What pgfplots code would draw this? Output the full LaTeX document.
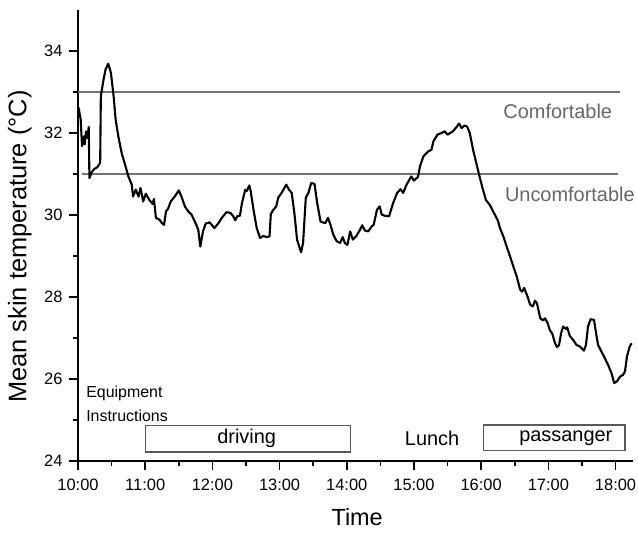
\documentclass[border=0pt]{standalone}
\usepackage{fontspec}
\setmainfont{Liberation Sans}
\usepackage{pgfplots}
\pgfplotsset{compat=1.18}
\begin{document}
\begin{tikzpicture}
\begin{axis}[
  width=555bp, height=451bp, scale only axis,
  xmin=10, xmax=18.26, ymin=24, ymax=35,
  axis lines=left, axis line style={-, line width=1.5bp},
  tick align=outside,
  major tick length=9bp, minor tick length=5bp,
  every tick/.style={line width=1.5bp, black},
  xtick={10,11,12,13,14,15,16,17,18},
  xticklabels={10:00,11:00,12:00,13:00,14:00,15:00,16:00,17:00,18:00},
  ytick={24,26,28,30,32,34},
  minor x tick num=1, minor y tick num=1,
  /pgf/number format/assume math mode=true,
  ticklabel style={font=\fontsize{16.5}{19}\selectfont},
  xticklabel style={yshift=-6bp},
  yticklabel style={xshift=-3bp},
  xlabel={Time}, ylabel={Mean skin temperature (°C)},
  xlabel style={font=\fontsize{23.5}{27}\selectfont, inner sep=0pt, at={(axis description cs:0.503,-0.105)}, anchor=north},
  ylabel style={font=\fontsize{25.5}{29}\selectfont, inner sep=0pt, at={(axis description cs:-0.083,0.4756)}, anchor=south},
  clip=false,
]
\addplot[black!55, line width=1.6bp] coordinates {(10,33) (18.07,33)};
\addplot[black!55, line width=1.6bp] coordinates {(10.06,31) (18.03,31)};
\addplot[black!65, line width=1.3bp] coordinates {(11,24.22) (14.06,24.22) (14.06,24.86) (11,24.86) (11,24.22)};
\addplot[black!65, line width=1.3bp] coordinates {(16.03,24.25) (18.14,24.25) (18.14,24.88) (16.03,24.88) (16.03,24.25)};
\addplot[black, line width=2.1bp, line join=round] coordinates {
(10.00,32.57) (10.01,32.61) (10.04,32.33) (10.06,31.68) (10.09,31.92) (10.10,31.72) (10.12,32.04) (10.14,31.88) (10.16,32.15) (10.17,30.90) (10.20,31.03) (10.24,31.12) (10.29,31.17) (10.33,31.27) (10.34,32.90) (10.38,33.30) (10.41,33.55) (10.45,33.69) (10.49,33.47) (10.53,32.90) (10.56,32.33) (10.60,31.92) (10.65,31.51) (10.70,31.23) (10.75,30.94) (10.80,30.74) (10.82,30.45) (10.86,30.62) (10.90,30.45) (10.93,30.66) (10.97,30.33) (11.01,30.52) (11.06,30.37) (11.11,30.27) (11.13,30.39) (11.16,29.93) (11.21,29.89) (11.25,29.80) (11.28,29.76) (11.31,30.09) (11.34,30.15) (11.38,30.33) (11.44,30.45) (11.50,30.60) (11.54,30.45) (11.59,30.21) (11.64,30.09) (11.69,30.01) (11.75,29.80) (11.79,29.64) (11.82,29.23) (11.86,29.60) (11.90,29.79) (11.96,29.82) (12.03,29.68) (12.09,29.80) (12.14,29.93) (12.21,30.07) (12.27,30.05) (12.31,29.97) (12.34,29.87) (12.37,29.97) (12.41,29.98) (12.44,30.29) (12.49,30.62) (12.51,30.58) (12.55,30.72) (12.57,30.58) (12.62,30.05) (12.66,29.68) (12.71,29.44) (12.76,29.49) (12.81,29.46) (12.85,29.48) (12.87,30.03) (12.91,30.13) (12.95,30.21) (12.98,30.42) (13.03,30.54) (13.10,30.74) (13.14,30.62) (13.18,30.54) (13.22,30.05) (13.26,29.40) (13.32,29.09) (13.35,29.32) (13.39,30.42) (13.43,30.54) (13.47,30.78) (13.52,30.76) (13.56,30.29) (13.61,29.84) (13.68,29.80) (13.72,29.93) (13.75,29.80) (13.80,29.52) (13.85,29.36) (13.90,29.32) (13.94,29.46) (13.97,29.32) (14.01,29.27) (14.05,29.60) (14.09,29.40) (14.14,29.48) (14.19,29.62) (14.23,29.75) (14.27,29.62) (14.32,29.60) (14.37,29.72) (14.40,29.76) (14.45,30.13) (14.49,30.21) (14.52,30.01) (14.57,29.98) (14.63,29.97) (14.69,30.29) (14.75,30.54) (14.80,30.63) (14.84,30.54) (14.89,30.74) (14.96,30.94) (15.00,30.84) (15.06,30.93) (15.09,31.19) (15.14,31.43) (15.21,31.55) (15.26,31.59) (15.29,31.80) (15.35,31.96) (15.41,32.00) (15.46,32.04) (15.50,31.96) (15.54,32.00) (15.58,32.04) (15.64,32.16) (15.67,32.23) (15.71,32.12) (15.75,32.18) (15.79,32.16) (15.83,32.00) (15.88,31.59) (15.93,31.25) (15.97,30.98) (16.02,30.66) (16.07,30.37) (16.13,30.24) (16.19,30.05) (16.25,29.86) (16.28,29.68) (16.33,29.48) (16.38,29.23) (16.43,28.99) (16.48,28.74) (16.53,28.50) (16.58,28.18) (16.61,28.13) (16.64,28.22) (16.69,28.01) (16.73,27.81) (16.77,27.77) (16.80,27.91) (16.83,27.85) (16.88,27.48) (16.92,27.43) (16.95,27.48) (16.99,27.36) (17.02,27.20) (17.06,27.10) (17.10,26.87) (17.13,26.78) (17.16,26.83) (17.19,27.12) (17.22,27.28) (17.26,27.22) (17.28,27.26) (17.32,27.05) (17.37,26.95) (17.42,26.83) (17.47,26.79) (17.53,26.69) (17.56,26.83) (17.59,27.28) (17.63,27.46) (17.68,27.44) (17.71,27.12) (17.74,26.83) (17.79,26.67) (17.84,26.51) (17.89,26.34) (17.94,26.14) (17.98,25.90) (18.02,25.94) (18.07,26.06) (18.11,26.10) (18.14,26.18) (18.17,26.55) (18.21,26.79) (18.24,26.87)
};
\node[font=\fontsize{20}{24}\selectfont, text=black!60, inner sep=0pt] at (axis cs:17.14,32.52) {Comfortable};
\node[font=\fontsize{20}{24}\selectfont, text=black!60, inner sep=0pt] at (axis cs:17.32,30.50) {Uncomfortable};
\node[font=\fontsize{20}{24}\selectfont, inner sep=0pt] at (axis cs:12.51,24.56) {driving};
\node[font=\fontsize{20}{24}\selectfont, inner sep=0pt] at (axis cs:15.27,24.56) {Lunch};
\node[font=\fontsize{20}{24}\selectfont, inner sep=0pt] at (axis cs:17.26,24.56) {passanger};
\node[font=\fontsize{16}{19}\selectfont, inner sep=0pt, anchor=west] at (axis cs:10.12,25.64) {Equipment};
\node[font=\fontsize{16}{19}\selectfont, inner sep=0pt, anchor=west] at (axis cs:10.12,25.10) {Instructions};
\end{axis}
\pgfresetboundingbox
\path[use as bounding box] (current axis.south west) ++(-78bp,-73bp) rectangle ([shift={(5bp,10bp)}]current axis.north east);
\end{tikzpicture}
\end{document}
